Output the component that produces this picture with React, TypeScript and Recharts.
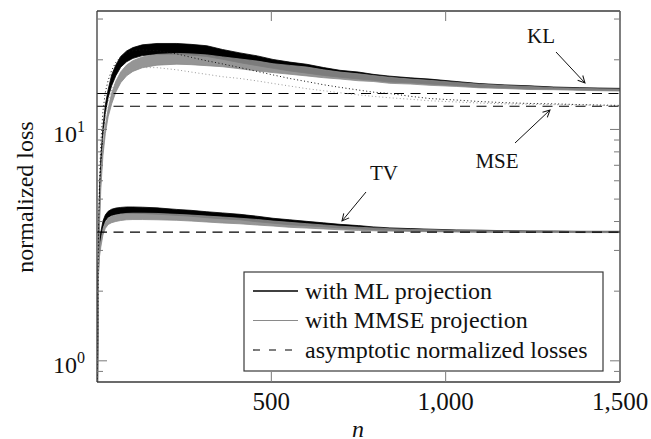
import React from "react";
import { ComposedChart, Area, Line, XAxis, YAxis, ReferenceLine } from "recharts";

const nValues = [1, 4, 7, 11, 17, 24, 32, 42, 54, 68, 85, 103, 130, 172, 229, 270, 315, 360, 410, 460, 505, 553, 602, 650, 697, 750, 792, 840, 900, 955, 1030, 1098, 1170, 1242, 1310, 1385, 1440, 1500];

// KL loss
const klMl = [0.6, 2.8, 5.0, 7.2, 9.8, 12.3, 14.3, 16.3, 18.0, 19.6, 20.7, 21.4, 22.0, 22.3, 22.3, 22.1, 21.8, 21.1, 20.4, 19.8, 19.2, 18.7, 18.3, 17.8, 17.4, 17.1, 16.8, 16.5, 16.3, 16.1, 15.8, 15.5, 15.35, 15.2, 15.1, 15.0, 14.95, 14.9];
const klMmse = [0.5, 2.2, 3.9, 5.8, 8.0, 10.0, 11.8, 13.6, 15.3, 16.8, 18.0, 18.8, 19.5, 20.0, 20.2, 20.1, 19.9, 19.6, 19.2, 18.8, 18.4, 18.1, 17.8, 17.4, 17.1, 16.8, 16.6, 16.3, 16.1, 15.9, 15.65, 15.4, 15.25, 15.1, 15.0, 14.9, 14.85, 14.8];
const klSpread = [1.02, 1.03, 1.04, 1.04, 1.04, 1.04, 1.04, 1.055, 1.055, 1.055, 1.055, 1.055, 1.055, 1.055, 1.055, 1.055, 1.055, 1.05, 1.05, 1.05, 1.045, 1.045, 1.045, 1.04, 1.035, 1.035, 1.03, 1.03, 1.025, 1.025, 1.02, 1.018, 1.015, 1.015, 1.01, 1.01, 1.01, 1.01];

// MSE loss
const mseMl = [0.7, 3.4, 6.0, 8.8, 12.0, 14.5, 16.3, 18.0, 19.5, 20.6, 21.4, 21.9, 22.1, 21.9, 21.2, 20.5, 19.8, 19.2, 18.5, 17.8, 17.2, 16.6, 16.1, 15.6, 15.2, 14.8, 14.5, 14.3, 13.9, 13.6, 13.4, 13.2, 13.05, 12.95, 12.9, 12.8, 12.75, 12.7];
const mseMmse = [0.6, 2.6, 4.6, 6.8, 9.2, 11.5, 13.2, 14.8, 16.0, 17.0, 17.8, 18.2, 18.5, 18.5, 18.1, 17.7, 17.3, 16.9, 16.6, 16.2, 15.8, 15.4, 15.0, 14.7, 14.4, 14.1, 13.9, 13.7, 13.5, 13.3, 13.15, 13.0, 12.9, 12.85, 12.8, 12.75, 12.7, 12.65];

// TV loss
const tvMl = [1.0, 2.7, 3.2, 3.5, 3.9, 4.15, 4.3, 4.38, 4.43, 4.46, 4.48, 4.48, 4.47, 4.44, 4.38, 4.34, 4.28, 4.23, 4.18, 4.1, 4.03, 3.97, 3.92, 3.87, 3.82, 3.78, 3.74, 3.71, 3.69, 3.67, 3.65, 3.64, 3.63, 3.62, 3.62, 3.61, 3.61, 3.61];
const tvMmse = [0.9, 2.4, 2.9, 3.2, 3.6, 3.85, 4.0, 4.08, 4.13, 4.17, 4.2, 4.21, 4.21, 4.2, 4.17, 4.14, 4.1, 4.06, 4.02, 3.97, 3.92, 3.87, 3.83, 3.79, 3.75, 3.72, 3.7, 3.68, 3.66, 3.65, 3.63, 3.62, 3.62, 3.61, 3.61, 3.6, 3.6, 3.6];
const tvSpread = [1.01, 1.02, 1.03, 1.03, 1.03, 1.03, 1.03, 1.032, 1.032, 1.032, 1.032, 1.032, 1.032, 1.032, 1.03, 1.03, 1.03, 1.03, 1.028, 1.028, 1.025, 1.025, 1.022, 1.02, 1.018, 1.016, 1.014, 1.012, 1.01, 1.01, 1.008, 1.008, 1.006, 1.006, 1.005, 1.005, 1.005, 1.005];

const asymptotes = [14.3, 12.6, 3.6];
const xTicks = [500, 1000, 1500];
const yTicks = [0.9, 1, 2, 3, 4, 5, 6, 7, 8, 9, 10, 20, 30];
const yMajor = [1, 10];

const legendItems = [
  { label: "with ML projection", color: "#000", dash: undefined, width: 1.3 },
  { label: "with MMSE projection", color: "#8a8a8a", dash: undefined, width: 1 },
  { label: "asymptotic normalized losses", color: "#000", dash: "7 9", width: 1.1 },
];

const rows = nValues.map((n, i) => ({
  n,
  klMl: [klMl[i] / klSpread[i], klMl[i] * klSpread[i]],
  klMmse: [klMmse[i] / klSpread[i], klMmse[i] * klSpread[i]],
  mseMl: mseMl[i],
  mseMmse: mseMmse[i],
  tvMl: [tvMl[i] / tvSpread[i], tvMl[i] * tvSpread[i]],
  tvMmse: [tvMmse[i] / tvSpread[i], tvMmse[i] * tvSpread[i]],
}));

const FONT = "'Liberation Serif', serif";
const TICK = "#7a7a7a";
const FRAME = "#3a3a3a";

function BottomTick(props: any) {
  const { x, y, payload } = props;
  return (
    <g>
      <line x1={x} y1={y} x2={x} y2={y - 10} stroke={TICK} strokeWidth={1} />
      <text x={x} y={y + 28} textAnchor="middle" fontFamily={FONT} fontSize={25} fill="#111">
        {payload.value.toLocaleString("en-US")}
      </text>
    </g>
  );
}

function TopTick(props: any) {
  const { x, y } = props;
  return <line x1={x} y1={y} x2={x} y2={y + 10} stroke={TICK} strokeWidth={1} />;
}

function LeftTick(props: any) {
  const { x, y, payload } = props;
  const major = yMajor.includes(payload.value);
  return (
    <g>
      <line x1={x} y1={y} x2={x + (major ? 10 : 6)} y2={y} stroke={TICK} strokeWidth={1} />
      {major && (
        <text x={x - 12} y={y + 12.5} textAnchor="end" fontFamily={FONT} fontSize={24} fill="#111">
          10
          <tspan dy={-10} fontSize={16}>
            {Math.round(Math.log10(payload.value))}
          </tspan>
        </text>
      )}
    </g>
  );
}

function RightTick(props: any) {
  const { x, y, payload } = props;
  const major = yMajor.includes(payload.value);
  return <line x1={x} y1={y} x2={x - (major ? 10 : 6)} y2={y} stroke={TICK} strokeWidth={1} />;
}

function Overlay() {
  return (
    <svg width={651} height={439} style={{ position: "absolute", left: 0, top: 0, pointerEvents: "none" }}>
      <defs>
        <marker id="arr" markerWidth="10" markerHeight="10" refX="8" refY="5" orient="auto" markerUnits="userSpaceOnUse">
          <path d="M1,1.5 L8,5 L1,8.5" fill="none" stroke="#111" strokeWidth={1} />
        </marker>
      </defs>
      <text x={541} y={43} textAnchor="middle" fontFamily={FONT} fontSize={21} fill="#111">KL</text>
      <line x1={556} y1={52} x2={585} y2={83} stroke="#111" strokeWidth={1} markerEnd="url(#arr)" />
      <text x={497} y={168} textAnchor="middle" fontFamily={FONT} fontSize={21} fill="#111">MSE</text>
      <line x1={515} y1={143} x2={550} y2={110} stroke="#111" strokeWidth={1} markerEnd="url(#arr)" />
      <text x={384} y={180} textAnchor="middle" fontFamily={FONT} fontSize={21} fill="#111">TV</text>
      <line x1={366} y1={192} x2={342} y2={221} stroke="#111" strokeWidth={1} markerEnd="url(#arr)" />

      <text transform="translate(33,197) rotate(-90)" textAnchor="middle" fontFamily={FONT} fontSize={24} fill="#111">
        normalized loss
      </text>
      <text x={358} y={437} textAnchor="middle" fontFamily={FONT} fontStyle="italic" fontSize={24} fill="#111">n</text>

      <rect x={244} y={272} width={359} height={99} fill="#fff" stroke={FRAME} strokeWidth={1.2} />
      {legendItems.map((it, i) => (
        <g key={it.label}>
          <line x1={253} x2={298} y1={291 + i * 29.5} y2={291 + i * 29.5} stroke={it.color} strokeWidth={it.width} strokeDasharray={it.dash} />
          <text x={305} y={298.5 + i * 29.5} fontFamily={FONT} fontSize={24} fill="#111">{it.label}</text>
        </g>
      ))}
    </svg>
  );
}

export default function App() {
  return (
    <div style={{ position: "absolute", left: 0, top: 0, width: 651, height: 439, background: "#fff" }}>
      <ComposedChart width={651} height={439} data={rows} margin={{ top: 0, right: 0, bottom: 0, left: 0 }}>
        <XAxis xAxisId="b" dataKey="n" type="number" domain={[0, 1500]} ticks={xTicks} interval={0} height={57}
          tickSize={0} tickMargin={0} tickLine={false} tick={<BottomTick />} allowDataOverflow
          axisLine={{ stroke: FRAME, strokeWidth: 1.3 }} />
        <XAxis xAxisId="t" orientation="top" dataKey="n" type="number" domain={[0, 1500]} ticks={xTicks} interval={0} height={11}
          tickSize={0} tickMargin={0} tickLine={false} tick={<TopTick />} allowDataOverflow
          axisLine={{ stroke: FRAME, strokeWidth: 1.3 }} />
        <YAxis yAxisId="l" type="number" scale="log" domain={[0.81, 32.5]} ticks={yTicks} interval={0} width={97}
          tickSize={0} tickMargin={0} tickLine={false} tick={<LeftTick />} allowDataOverflow
          axisLine={{ stroke: FRAME, strokeWidth: 1.3 }} />
        <YAxis yAxisId="r" orientation="right" type="number" scale="log" domain={[0.81, 32.5]} ticks={yTicks} interval={0} width={31}
          tickSize={0} tickMargin={0} tickLine={false} tick={<RightTick />} allowDataOverflow
          axisLine={{ stroke: FRAME, strokeWidth: 1.3 }} />

        {asymptotes.map((v) => (
          <ReferenceLine key={v} xAxisId="b" yAxisId="l" y={v} stroke="#000" strokeWidth={1.1} strokeDasharray="10 6.5" />
        ))}

        <Area xAxisId="b" yAxisId="l" dataKey="klMl" type="linear" stroke="#000" strokeWidth={0.8} fill="#000" fillOpacity={1} isAnimationActive={false} dot={false} activeDot={false} />
        <Area xAxisId="b" yAxisId="l" dataKey="tvMl" type="linear" stroke="#000" strokeWidth={0.8} fill="#000" fillOpacity={1} isAnimationActive={false} dot={false} activeDot={false} />
        <Area xAxisId="b" yAxisId="l" dataKey="klMmse" type="linear" stroke="#8a8a8a" strokeWidth={0.8} fill="#8a8a8a" fillOpacity={0.9} isAnimationActive={false} dot={false} activeDot={false} />
        <Area xAxisId="b" yAxisId="l" dataKey="tvMmse" type="linear" stroke="#8a8a8a" strokeWidth={0.8} fill="#8a8a8a" fillOpacity={0.9} isAnimationActive={false} dot={false} activeDot={false} />
        <Line xAxisId="b" yAxisId="l" dataKey="mseMl" type="linear" stroke="#111" strokeWidth={1} strokeDasharray="1 2.5" dot={false} activeDot={false} isAnimationActive={false} />
        <Line xAxisId="b" yAxisId="l" dataKey="mseMmse" type="linear" stroke="#9a9a9a" strokeWidth={1} strokeDasharray="1 2.5" dot={false} activeDot={false} isAnimationActive={false} />
      </ComposedChart>
      <Overlay />
    </div>
  );
}
